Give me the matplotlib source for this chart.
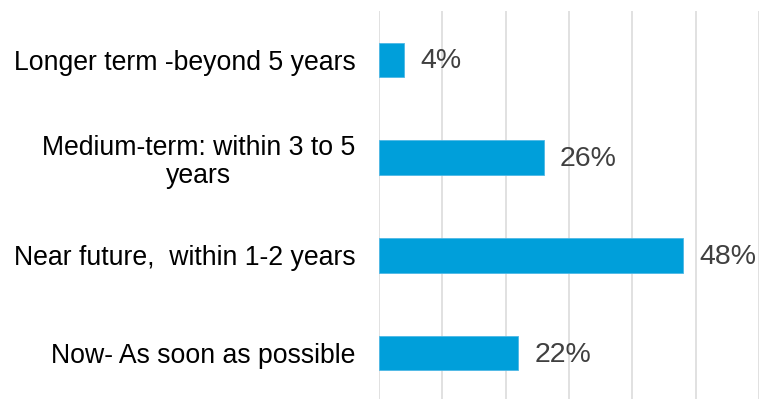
"""Horizontal bar chart: expected timing of adoption."""
import matplotlib

matplotlib.use("Agg")
import matplotlib.pyplot as plt

# data, bottom to top as drawn
categories = [
    "Now- As soon as possible",
    "Near future,  within 1-2 years",
    "Medium-term: within 3 to 5\nyears",
    "Longer term -beyond 5 years",
]
shares = [0.22, 0.48, 0.26, 0.04]
share_labels = ["22%", "48%", "26%", "4%"]
grid_ticks = [0.0, 0.1, 0.2, 0.3, 0.4, 0.5, 0.6]

BAR_COLOR = "#009FDA"
GRID_COLOR = "#D9D9D9"

plt.rcParams["font.family"] = ["Liberation Sans", "DejaVu Sans"]

fig = plt.figure(figsize=(7.6, 3.99), dpi=100)
ax = fig.add_axes([379 / 760, -3 / 399, 380 / 760, 391 / 399])

y = list(range(len(categories)))
ax.barh(y, shares, height=0.355, color=BAR_COLOR, edgecolor="#4DB8E6",
        linewidth=0.6, zorder=3)

for yi, val, lab in zip(y, shares, share_labels):
    ax.annotate(lab, xy=(val, yi), xytext=(11.5, -1), textcoords="offset points",
                ha="left", va="center", fontsize=20.5, color="#404040")

ax.set_xlim(0, 0.6)
ax.set_ylim(-0.5, len(categories) - 0.5)
ax.set_xticks(grid_ticks)
ax.set_xticklabels([])
ax.tick_params(axis="x", length=0)
ax.grid(axis="x", color=GRID_COLOR, linewidth=1.1, zorder=0)

ax.set_yticks(y)
ax.set_yticklabels(categories, fontsize=19.2, color="black")
ax.tick_params(axis="y", length=0, pad=17)
for lbl in ax.get_yticklabels():
    lbl.set_multialignment("center")
    lbl.set_linespacing(1.1)

for side in ("top", "right", "bottom", "left"):
    ax.spines[side].set_visible(False)

fig.savefig("out.png", dpi=100)
